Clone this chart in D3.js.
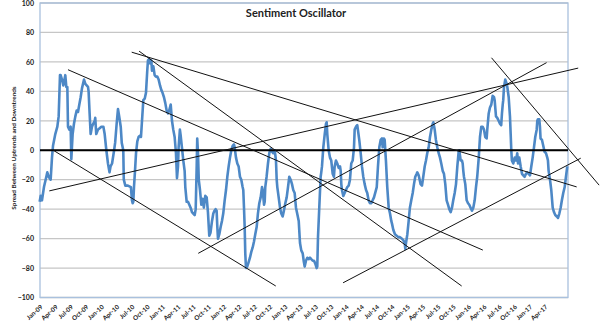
<!DOCTYPE html>
<html>
<head>
<meta charset="utf-8">
<script src="https://cdn.jsdelivr.net/npm/d3@7"></script>
<style>
  html, body { margin: 0; padding: 0; background: #fff; }
  svg { display: block; }
  text { font-family: Lato, "Open Sans", sans-serif; fill: #222; }
</style>
</head>
<body>
<svg id="chart" width="600" height="329"></svg>
<script>
// Quarterly category labels along the bottom axis (one every 3 months from Jan-09)
const tickLabels = [
  "Jan-09","Apr-09","Jul-09","Oct-09","Jan-10","Apr-10","Jul-10","Oct-10",
  "Jan-11","Apr-11","Jul-11","Oct-11","Jan-12","Apr-12","Jul-12","Oct-12",
  "Jan-13","Apr-13","Jul-13","Oct-13","Jan-14","Apr-14","Jul-14","Oct-14",
  "Jan-15","Apr-15","Jul-15","Oct-15","Jan-16","Apr-16","Jul-16","Oct-16",
  "Jan-17","Apr-17"
];
const yTicks = [-100, -80, -60, -40, -20, 0, 20, 40, 60, 80, 100];

// Spread between uptrends and downtrends: [months since Jan-09, value]
const spread2009 = [
  [-0.4,-35],[-0.2,-31],[0.06,-34],[0.45,-25],[0.91,-18],[1.1,-15],[1.37,-18],[1.76,-20],
  [2.02,-5],[2.22,3],[2.67,11],[3.07,16],[3.33,23],[3.59,51],[3.72,51],[3.98,48],[4.24,44],
  [4.63,51],[4.83,43],[5.03,43],[5.16,16],[5.42,14],[5.68,16],[5.81,-6],[6.07,11],[6.33,18],
  [6.6,23],[6.86,27],[7.12,26],[7.38,31],[7.64,36],[7.9,42],[8.3,48],[8.56,45],[9.08,43],
  [9.2,40],[9.4,25],[9.6,11],[9.86,16],[10.1,18],[10.4,20],[10.5,22],[10.7,11],[11.04,14],
  [11.37,15],[11.7,16]
];
const spread2010 = [
  [12.1,16],[12.35,11],[12.68,0],[13.0,-9],[13.3,-15],[13.5,-11],[13.8,-9],[14.2,0],[14.4,5],
  [14.7,18],[14.96,28],[15.2,23],[15.5,16],[15.7,5],[16.0,0],[16.1,-20],[16.4,-24],[16.9,-24],
  [17.5,-25],[17.7,-34],[17.84,-36],[17.97,-35],[18.1,-25],[18.3,-14],[18.5,-2],[18.75,6],
  [19.0,9],[19.27,10],[19.47,9],[19.67,20],[19.93,34],[20.2,35],[20.45,39],[20.7,54],[20.84,61],
  [21.1,62],[21.24,59],[21.5,61],[21.63,54],[21.9,57],[22.15,51],[22.4,50],[22.67,50],[22.93,48],
  [23.2,44],[23.45,41],[23.7,39]
];
const spread2011 = [
  [23.98,36],[24.24,32],[24.5,27],[24.76,25],[25.0,27],[25.3,31],[25.55,20],[25.8,14],[26.07,9],
  [26.33,-2],[26.53,-19],[26.73,-11],[26.85,2],[27.1,14],[27.25,10],[27.5,2],[27.77,-7],[28.03,-14],
  [28.16,-25],[28.43,-35],[28.69,-35],[28.95,-37],[29.2,-39],[29.47,-42],[29.73,-43],[30.0,-44],
  [30.2,-40],[30.4,-10],[30.5,8],[30.65,-2],[30.8,-20],[31.04,-27],[31.3,-37],[31.57,-33],[31.8,-39],
  [32.08,-31],[32.35,-32],[32.6,-42],[32.86,-58],[33.1,-56],[33.4,-48],[33.65,-43],[33.9,-41],
  [34.1,-40],[34.3,-41],[34.44,-52],[34.57,-60],[34.83,-57],[35.1,-52],[35.35,-48],[35.6,-43]
];
const spread2012 = [
  [35.88,-34],[36.14,-27],[36.4,-18],[36.66,-11],[36.92,-5],[37.18,0],[37.45,3],[37.7,4],[37.84,2],
  [38.1,-5],[38.36,-9],[38.62,-11],[38.88,-18],[39.14,-20],[39.4,-25],[39.53,-27],[39.67,-39],
  [39.8,-52],[39.92,-70],[40.06,-80],[40.3,-79],[40.58,-76],[40.84,-73],[41.1,-69],[41.37,-66],
  [41.63,-62],[41.88,-57],[42.16,-52],[42.4,-43],[42.67,-36],[42.94,-32],[43.2,-25],[43.33,-27],
  [43.6,-37],[43.73,-35],[43.84,-25],[44.1,-18],[44.37,-9],[44.63,-2],[44.9,1],[45.16,-1],[45.4,-2],
  [45.7,0],[45.94,-7],[46.08,-20],[46.2,-25],[46.47,-32],[46.73,-39],[46.98,-43],[47.25,-45],[47.5,-41]
];
const spread2013 = [
  [47.77,-36],[48.04,-32],[48.3,-25],[48.55,-18],[48.82,-20],[49.08,-23],[49.33,-27],[49.6,-29],
  [49.86,-39],[50.1,-43],[50.4,-48],[50.65,-63],[50.9,-68],[51.18,-70],[51.37,-75],[51.57,-79],
  [51.82,-75],[52.08,-73],[52.35,-74],[52.6,-73],[52.86,-74],[53.14,-75],[53.4,-75],[53.65,-77],
  [53.92,-80],[54.04,-79],[54.18,-59],[54.43,-39],[54.7,-18],[54.82,-15],[54.96,-11],[55.22,2],
  [55.5,11],[55.75,18],[55.88,19],[56.0,11],[56.27,0],[56.53,-5],[56.78,-7],[57.06,-16],[57.3,-18],
  [57.45,-11],[57.7,-7],[57.96,-9],[58.24,-12],[58.5,-11],[58.63,-14],[58.75,-23],[58.88,-27],
  [59.14,-31],[59.4,-29],[59.67,-27]
];
const spread2014 = [
  [59.92,-25],[60.2,-24],[60.45,-20],[60.7,-9],[60.98,-7],[61.24,2],[61.37,14],[61.63,16],[61.88,17],
  [62.0,14],[62.27,7],[62.55,-2],[62.8,-11],[63.06,-18],[63.33,-23],[63.6,-27],[63.84,-29],[64.1,-34],
  [64.37,-36],[64.63,-36],[64.9,-34],[65.16,-32],[65.4,-29],[65.7,-25],[65.94,-11],[66.2,2],[66.47,7],
  [66.73,8],[66.86,2],[67.1,8],[67.25,7],[67.5,-7],[67.76,-25],[68.04,-39],[68.3,-43],[68.55,-48],
  [68.7,-50],[68.94,-54],[69.27,-57],[69.6,-58],[69.92,-59],[70.25,-59],[70.6,-60],[70.9,-61],
  [71.18,-63],[71.3,-67],[71.43,-63],[71.7,-57]
];
const spread2015 = [
  [71.96,-48],[72.2,-39],[72.47,-34],[72.75,-29],[73.0,-23],[73.25,-18],[73.53,-16],[73.65,-15],
  [73.92,-17],[74.3,-23],[74.57,-24],[74.82,-18],[75.1,-11],[75.35,-7],[75.6,-2],[75.88,2],[76.14,9],
  [76.4,14],[76.67,18],[76.8,19],[77.06,14],[77.3,7],[77.57,2],[77.84,-2],[78.1,-5],[78.35,-9],
  [78.63,-14],[78.88,-16],[79.14,-23],[79.4,-34],[79.67,-37],[79.92,-40],[80.2,-42],[80.45,-39],
  [80.7,-34],[80.98,-29],[81.24,-23],[81.5,-11],[81.76,-1],[81.88,0],[82.16,-7],[82.41,-7],[82.55,-9],
  [82.67,-14],[82.8,-18],[83.06,-23],[83.33,-34],[83.6,-36]
];
const spread2016 = [
  [83.84,-37],[84.1,-39],[84.37,-41],[84.63,-39],[84.9,-34],[85.16,-25],[85.4,-18],[85.7,-5],[85.94,9],
  [86.2,16],[86.47,16],[86.73,14],[86.98,9],[87.25,8],[87.37,14],[87.65,25],[87.9,29],[88.16,31],
  [88.43,37],[88.7,36],[88.82,34],[89.08,23],[89.33,22],[89.6,20],[89.86,18],[90.1,17],[90.25,25],
  [90.4,31],[90.5,34],[90.65,43],[90.9,48],[91.18,45],[91.3,43],[91.57,36],[91.82,23],[91.96,11],
  [92.08,0],[92.2,-7],[92.47,-9],[92.75,-5],[93.0,-7],[93.25,-2],[93.4,-9],[93.65,-5],[93.92,-11],
  [94.18,-16],[94.43,-17],[94.7,-18],[94.96,-16],[95.2,-15],[95.5,-16],[95.75,-17]
];
const spread2017 = [
  [96.0,-11],[96.27,-5],[96.53,2],[96.78,9],[97.06,14],[97.18,20],[97.3,21],[97.57,21],[97.7,16],
  [97.82,8],[98.1,7],[98.35,3],[98.6,-1],[98.88,-2],[99.14,-5],[99.27,-7],[99.4,-14],[99.67,-20],
  [99.92,-27],[100.2,-39],[100.45,-42],[100.7,-44],[101.0,-45],[101.24,-46],[101.5,-43],[101.76,-39],
  [102.0,-34],[102.27,-29],[102.55,-25],[102.8,-18],[103.06,-11]
];

// Hand-drawn trend lines: start and end as [months since Jan-09, value]
const trendLines = [
  [[5.16, 54.7], [86.5, -67.8]],
  [[17.65, 66.6], [104.9, -24.9]],
  [[19.1, 67.3], [82.35, -92.2]],
  [[2.27, 0], [45.9, -92.2]],
  [[1.49, -27.6], [105.2, 55.8]],
  [[30.7, -70], [99.0, 59.5]],
  [[59.1, -90], [105.7, -5.4]],
  [[88.2, 62.8], [109.3, -23.7]]
];

const spread = [].concat(spread2009, spread2010, spread2011, spread2012,
  spread2013, spread2014, spread2015, spread2016, spread2017);

const svg = d3.select("#chart");
const plot = { left: 40, right: 568, top: 3, bottom: 297.5 };

const x = d3.scaleLinear().domain([-0.33, 103.2]).range([plot.left, plot.right]);
const y = d3.scaleLinear().domain([-100, 100]).range([plot.bottom, plot.top]);

// horizontal gridlines
svg.append("g")
  .selectAll("line")
  .data(yTicks)
  .join("line")
  .attr("x1", plot.left).attr("x2", plot.right)
  .attr("y1", d => y(d)).attr("y2", d => y(d))
  .attr("stroke", "#c6c6c6")
  .attr("stroke-width", 1.3);

// plot frame
svg.append("rect")
  .attr("x", plot.left).attr("y", plot.top)
  .attr("width", plot.right - plot.left)
  .attr("height", plot.bottom - plot.top)
  .attr("fill", "none")
  .attr("stroke", "#a9c1de")
  .attr("stroke-width", 1.3);

// y axis labels
const yAxis = d3.axisLeft(y).tickValues(yTicks).tickSize(0).tickPadding(6);
const yg = svg.append("g").attr("transform", `translate(${plot.left},0)`).call(yAxis);
yg.select(".domain").remove();
yg.selectAll("text")
  .style("font-family", "Lato, sans-serif")
  .style("font-size", "7px")
  .style("font-weight", "bold")
  .attr("fill", "#333");

// x axis labels, rotated
const xAxis = d3.axisBottom(x)
  .tickValues(tickLabels.map((_, i) => i * 3))
  .tickFormat((d, i) => tickLabels[i])
  .tickSize(0).tickPadding(0);
const xg = svg.append("g").attr("transform", `translate(0,${plot.bottom})`).call(xAxis);
xg.select(".domain").remove();
xg.selectAll("text")
  .style("font-family", "Lato, sans-serif")
  .style("font-size", "6.3px")
  .style("font-weight", "bold")
  .attr("fill", "#333")
  .attr("text-anchor", "end")
  .attr("dy", 0)
  .attr("y", 0)
  .attr("transform", "translate(1,10) rotate(-42)");

// series line
const line = d3.line().x(d => x(d[0])).y(d => y(d[1]));
svg.append("path")
  .datum(spread)
  .attr("d", line)
  .attr("fill", "none")
  .attr("stroke", "#4d88c6")
  .attr("stroke-width", 2.6)
  .attr("stroke-linejoin", "round");

// zero line
svg.append("line")
  .attr("x1", plot.left).attr("x2", plot.right)
  .attr("y1", y(0)).attr("y2", y(0))
  .attr("stroke", "#000")
  .attr("stroke-width", 2.2);

// trend lines
svg.append("g")
  .selectAll("line")
  .data(trendLines)
  .join("line")
  .attr("x1", d => x(d[0][0])).attr("y1", d => y(d[0][1]))
  .attr("x2", d => x(d[1][0])).attr("y2", d => y(d[1][1]))
  .attr("stroke", "#111")
  .attr("stroke-width", 1);

// title
svg.append("text")
  .attr("x", 296).attr("y", 17)
  .attr("text-anchor", "middle")
  .style("font-family", "Lato, sans-serif")
  .style("font-size", "11px")
  .style("font-weight", "bold")
  .attr("fill", "#111")
  .text("Sentiment Oscillator");

// y axis title
svg.append("text")
  .attr("transform", "translate(16,148) rotate(-90)")
  .attr("text-anchor", "middle")
  .style("font-family", "Lato, sans-serif")
  .style("font-size", "6.4px")
  .style("font-weight", "bold")
  .attr("fill", "#222")
  .text("Spread Between Uptrends and Downtrends");
</script>
</body>
</html>
